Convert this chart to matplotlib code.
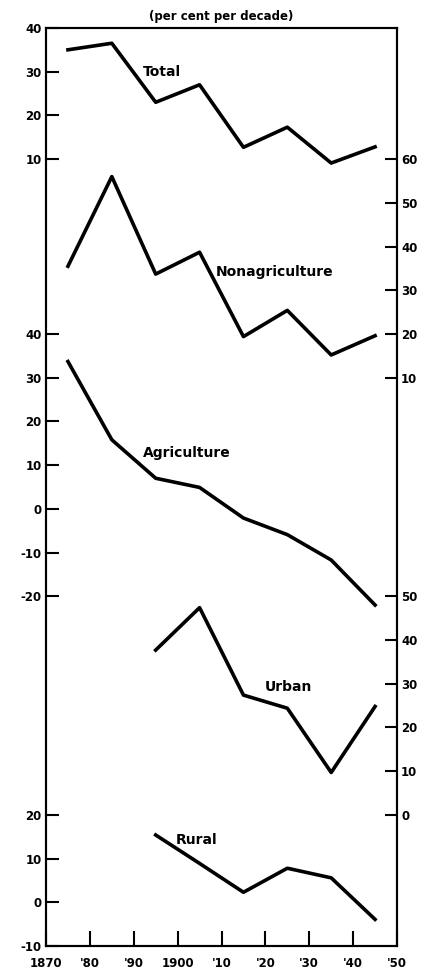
import matplotlib
matplotlib.use("Agg")
from matplotlib import pyplot as plt

# decade midpoints
years = [1875, 1885, 1895, 1905, 1915, 1925, 1935, 1945]
years_late = [1895, 1905, 1915, 1925, 1935, 1945]

# per cent per decade
total = [35.0, 36.5, 23.0, 27.0, 12.7, 17.3, 9.1, 12.8]
nonagriculture = [35.5, 56.0, 33.7, 38.7, 19.4, 25.4, 15.2, 19.6]
agriculture = [33.7, 15.8, 7.0, 4.9, -2.1, -5.9, -11.7, -22.0]
urban = [37.7, 47.4, 27.4, 24.4, 9.7, 24.8]
rural = [15.4, 8.9, 2.3, 7.8, 5.6, -3.9]

# each panel is stacked on one shared scale with its own offset
off_total, off_nonag, off_agri, off_urban, off_rural = 0, -50, -70, -140, -160

left_ticks = [(off_total, [40, 30, 20, 10]),
              (off_agri, [40, 30, 20, 10, 0, -10, -20]),
              (off_rural, [20, 10, 0, -10])]
right_ticks = [(off_nonag, [60, 50, 40, 30, 20, 10]),
               (off_urban, [50, 40, 30, 20, 10, 0])]

x_ticks = [1870, 1880, 1890, 1900, 1910, 1920, 1930, 1940, 1950]
x_labels = ["1870", "'80", "'90", "1900", "'10", "'20", "'30", "'40", "'50"]

plt.rcParams["font.family"] = ["DejaVu Sans"]

fig = plt.figure(figsize=(4.32, 9.74), dpi=100)
ax = fig.add_axes([0.1065, 0.0287, 0.8125, 0.9426])

lw = 2.6
ax.plot(years, [v + off_total for v in total], color="black", lw=lw)
ax.plot(years, [v + off_nonag for v in nonagriculture], color="black", lw=lw)
ax.plot(years, [v + off_agri for v in agriculture], color="black", lw=lw)
ax.plot(years_late, [v + off_urban for v in urban], color="black", lw=lw)
ax.plot(years_late, [v + off_rural for v in rural], color="black", lw=lw)

lab = dict(fontsize=10, fontweight="bold", va="center", ha="left")
ax.text(1892, 30 + off_total, "Total", **lab)
ax.text(1908.8, 34.1 + off_nonag, "Nonagriculture", **lab)
ax.text(1892, 12.7 + off_agri, "Agriculture", **lab)
ax.text(1919.8, 29.2 + off_urban, "Urban", **lab)
ax.text(1899.5, 14.3 + off_rural, "Rural", **lab)

ax.set_xlim(1870, 1950)
ax.set_ylim(-170, 40)

pos, labs = [], []
for off, vals in left_ticks:
    pos += [v + off for v in vals]
    labs += [str(v) for v in vals]
ax.set_yticks(pos)
ax.set_yticklabels(labs)

ax2 = ax.twinx()
ax2.set_ylim(-170, 40)
pos, labs = [], []
for off, vals in right_ticks:
    pos += [v + off for v in vals]
    labs += [str(v) for v in vals]
ax2.set_yticks(pos)
ax2.set_yticklabels(labs)

ax.set_xticks(x_ticks)
ax.set_xticklabels(x_labels)

for a in (ax, ax2):
    a.tick_params(direction="in", length=9, width=1.5, labelsize=8.5, pad=3)
    for lbl in a.get_xticklabels() + a.get_yticklabels():
        lbl.set_fontweight("bold")
    for s in a.spines.values():
        s.set_linewidth(1.5)
ax.tick_params(axis="x", length=11, pad=8)

ax.set_title("(per cent per decade)", fontsize=8.5, fontweight="bold", pad=6)

fig.savefig("out.png", dpi=100)
